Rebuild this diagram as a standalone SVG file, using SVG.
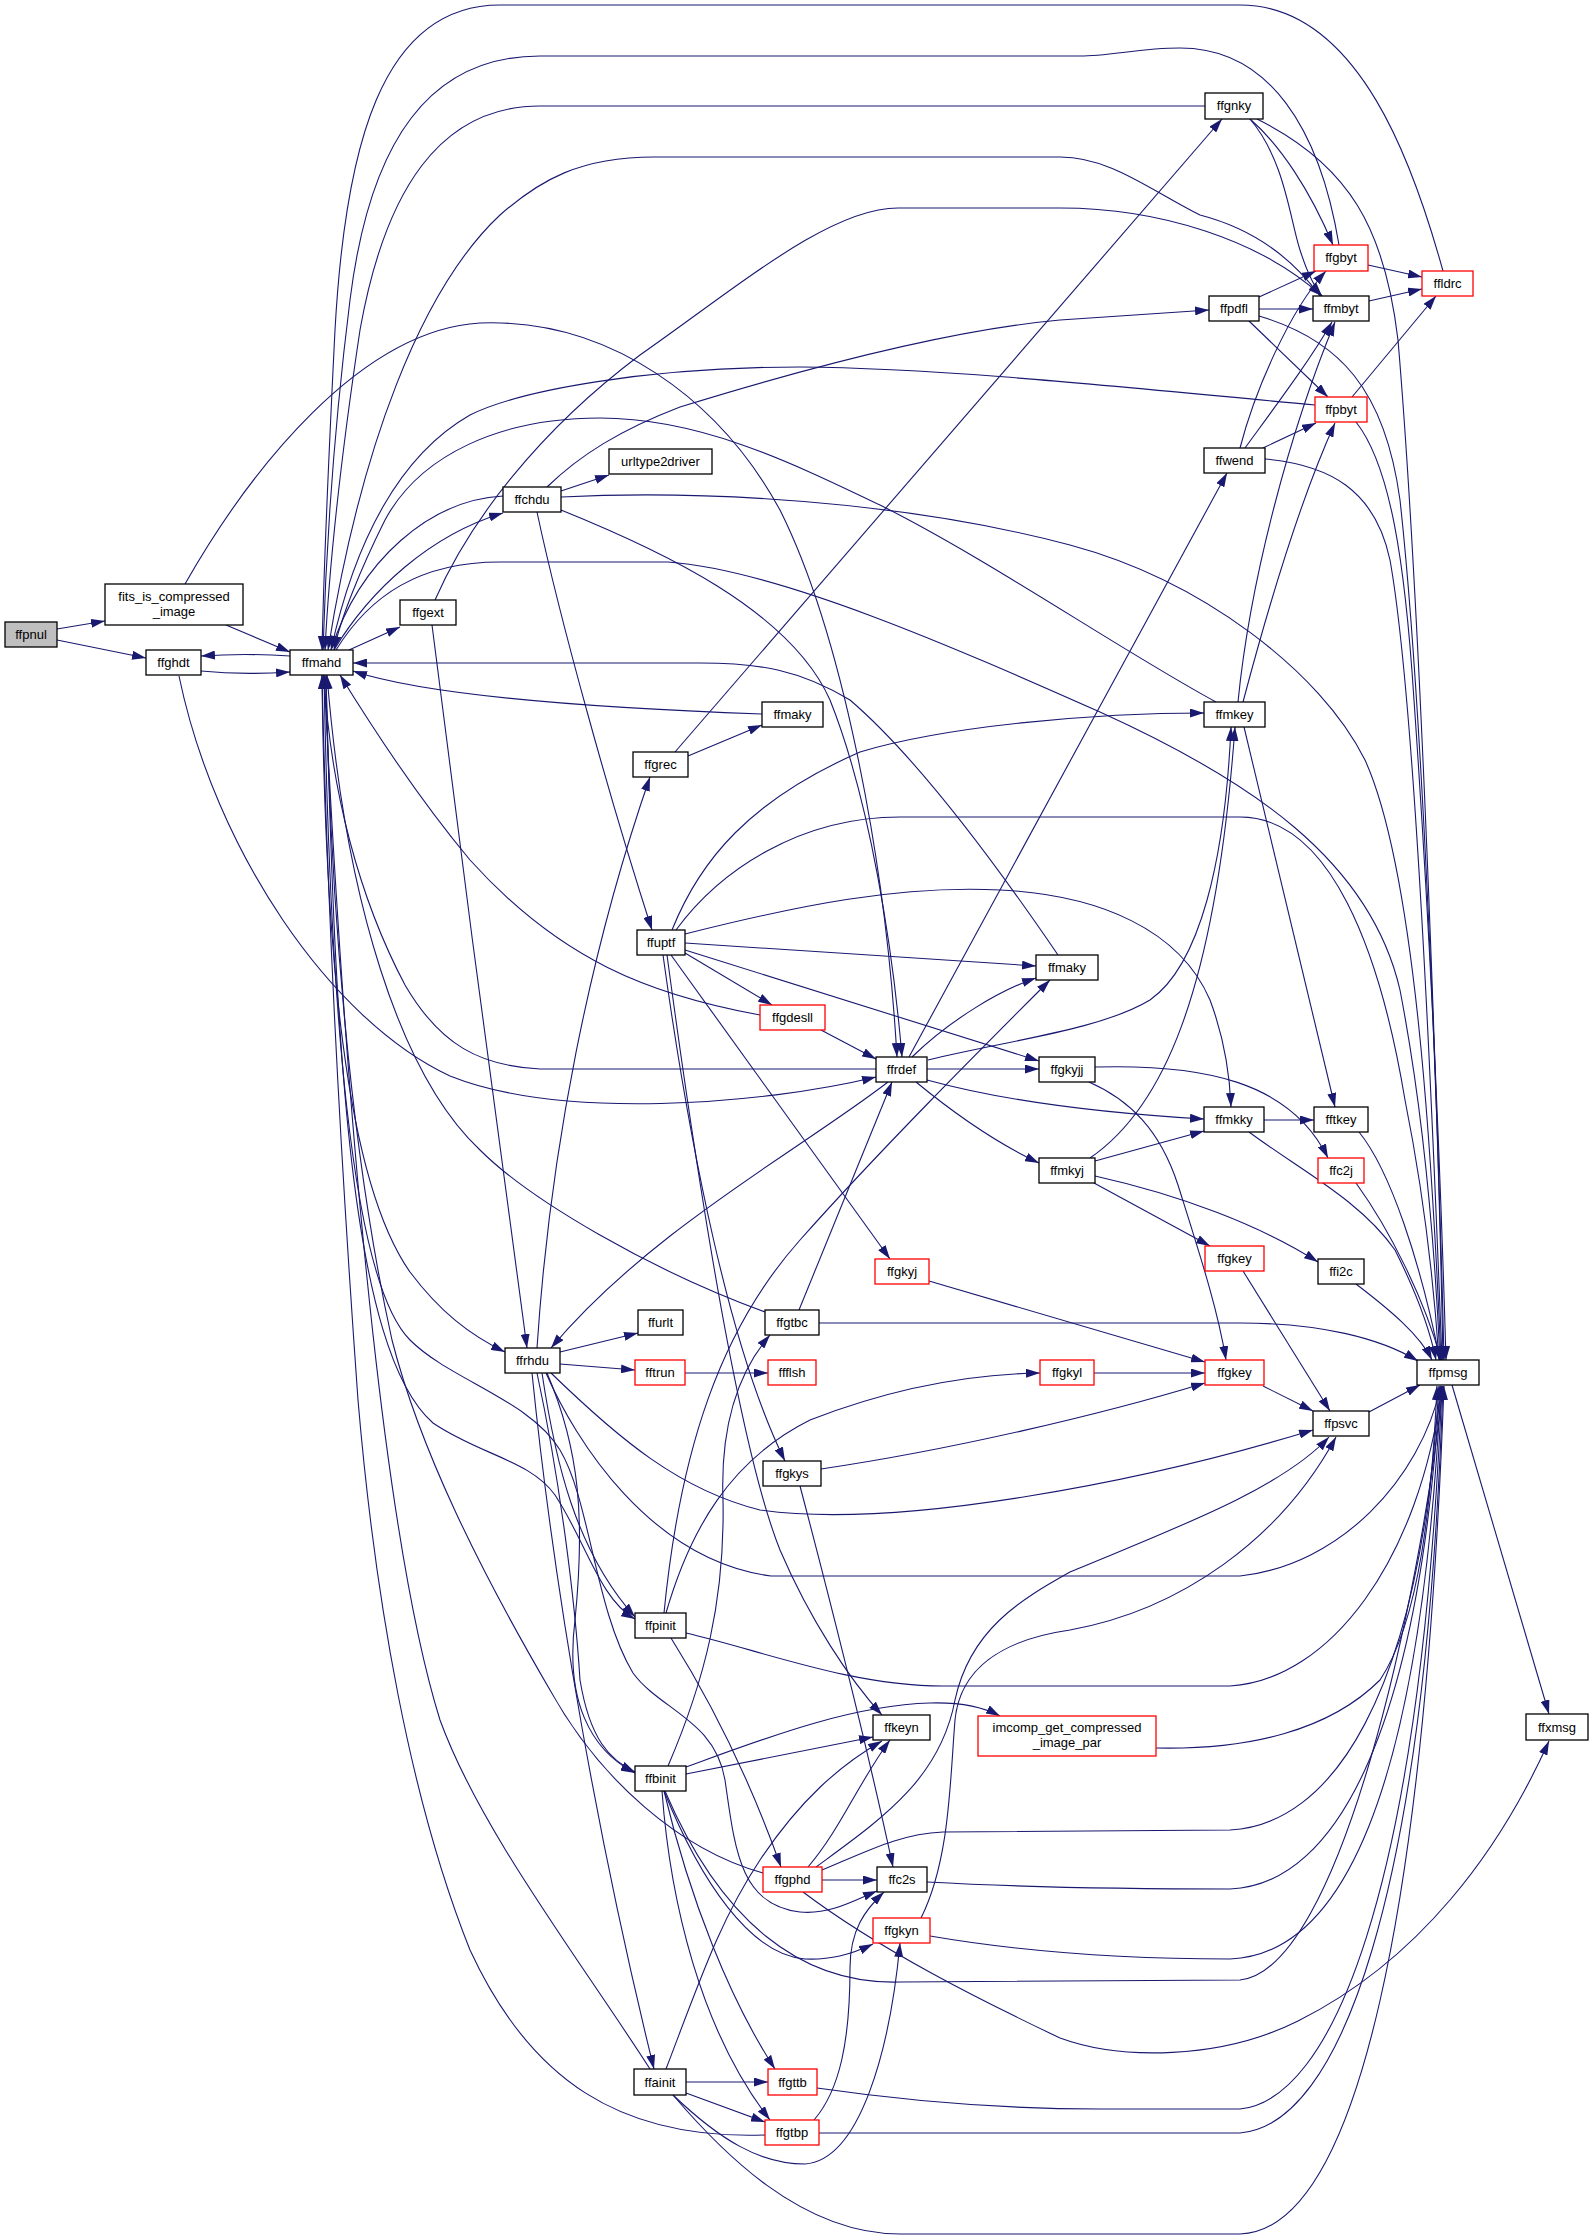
<svg xmlns="http://www.w3.org/2000/svg" width="1593" height="2240" viewBox="0 0 1593 2240">
<style>
text{font-family:"Liberation Sans",Arial,Helvetica,sans-serif;font-size:13px;text-anchor:middle;fill:#000}
.nb{fill:#fff;stroke:#000;stroke-width:1.3}
.nr{fill:#fff;stroke:#ff0000;stroke-width:1.3}
.ng{fill:#bfbfbf;stroke:#000;stroke-width:1.3}
#edges path{fill:none;stroke:#191970;stroke-width:1.1;marker-end:url(#ah)}
</style>
<defs>
<marker id="ah" markerWidth="14" markerHeight="9" refX="14" refY="4.5" orient="auto" markerUnits="userSpaceOnUse"><path d="M0,0 L14,4.5 L0,9 z" fill="#191970"/></marker>
</defs>
<rect x="0" y="0" width="1593" height="2240" fill="#fff"/>
<g id="edges">
<path d="M57,629 L105,621"/>
<path d="M57,640 L146,658"/>
<path d="M226,625 L290,652"/>
<path d="M201,671 C230,674 260,674 290,672"/>
<path d="M290,656 C260,654 230,654 201,656"/>
<path d="M349,650 L400,627"/>
<path d="M334,650 C370,590 430,535 503,513"/>
<path d="M503,496 C430,500 360,560 331,650"/>
<path d="M185,584 C250,470 360,330 480,323 C610,318 720,400 780,510 C840,630 885,850 897,1057"/>
<path d="M179,676 C215,850 330,1020 450,1076 C560,1120 760,1105 876,1077"/>
<path d="M1443,271 C1415,170 1360,5 1240,5 L500,5 C380,5 345,150 335,330 C329,450 324,560 322,650"/>
<path d="M1339,245 C1320,130 1270,48 1180,48 C1140,48 1110,56 1080,56 L540,56 C430,56 370,140 350,300 C335,420 326,550 323,650"/>
<path d="M1205,106 L540,106 C440,106 385,190 360,330 C345,430 330,550 325,650"/>
<path d="M1320,296 C1290,255 1250,228 1200,215 C1150,190 1110,157 1060,157 L654,157 C580,157 540,180 500,215 C420,290 360,450 328,650"/>
<path d="M435,600 C470,520 540,430 640,355 C740,285 830,208 898,208 L1060,208 C1160,208 1260,240 1322,296"/>
<path d="M1315,405 C1150,390 950,368 800,367 C650,367 520,390 470,415 C400,455 355,540 331,650"/>
<path d="M1216,702 C1120,650 990,560 880,505 C790,462 700,418 600,418 C500,418 420,455 385,520 C360,570 340,620 334,650"/>
<path d="M336,650 C370,595 420,562 500,562 L668,562 C780,570 960,650 1100,712 C1250,780 1370,860 1400,990 C1425,1120 1435,1250 1440,1360"/>
<path d="M561,497 C700,490 900,500 1070,545 C1200,580 1320,670 1365,760 C1415,870 1432,1150 1441,1360"/>
<path d="M561,491 L609,475"/>
<path d="M547,487 C580,455 620,430 680,407 C800,370 950,330 1060,320 L1209,310"/>
<path d="M537,512 C560,620 610,800 652,930"/>
<path d="M561,510 C660,550 790,610 830,700 C870,800 893,950 902,1057"/>
<path d="M762,714 C650,710 440,700 353,671"/>
<path d="M1058,955 C1000,870 920,760 850,700 C800,670 760,663 700,663 L353,663"/>
<path d="M876,1069 L540,1069 C480,1066 440,1045 405,985 C360,900 330,790 324,675"/>
<path d="M760,1015 C650,995 560,960 470,860 C420,800 380,740 340,675"/>
<path d="M765,1312 C650,1270 530,1200 480,1150 C400,1075 345,900 327,675"/>
<path d="M322,675 C325,950 345,1180 410,1272 C440,1312 470,1335 505,1352"/>
<path d="M432,625 C460,850 500,1150 527,1348"/>
<path d="M537,1348 C550,1150 590,950 650,777"/>
<path d="M675,752 L1222,119"/>
<path d="M688,756 L762,725"/>
<path d="M912,1057 C950,1020 1000,990 1036,978"/>
<path d="M685,943 L1036,966"/>
<path d="M664,1613 C680,1450 720,1330 800,1240 C880,1150 980,1050 1050,980"/>
<path d="M666,1613 C690,1530 730,1460 810,1420 C900,1385 980,1374 1040,1373"/>
<path d="M668,1766 C705,1680 725,1600 723,1500 C720,1420 740,1370 770,1335"/>
<path d="M685,953 L772,1005"/>
<path d="M821,1030 L876,1059"/>
<path d="M685,950 L1039,1061"/>
<path d="M927,1069 L1039,1069"/>
<path d="M927,1080 C1000,1100 1100,1113 1204,1119"/>
<path d="M916,1082 C950,1110 990,1140 1039,1163"/>
<path d="M909,1057 L1227,473"/>
<path d="M888,1082 C800,1150 650,1230 551,1348"/>
<path d="M928,1060 C1010,1040 1100,1030 1150,1000 C1200,965 1225,860 1231,727"/>
<path d="M1090,1158 C1160,1110 1215,1000 1235,727"/>
<path d="M1244,727 L1335,1107"/>
<path d="M685,934 C800,905 900,885 1000,890 C1100,895 1180,930 1210,1000 C1225,1040 1230,1080 1231,1107"/>
<path d="M1095,1067 C1200,1064 1290,1080 1328,1158"/>
<path d="M1089,1082 C1130,1100 1160,1130 1178,1185 C1200,1255 1218,1310 1226,1360"/>
<path d="M1264,1120 L1314,1120"/>
<path d="M1095,1161 L1204,1131"/>
<path d="M1094,1183 L1210,1246"/>
<path d="M1095,1176 C1180,1195 1260,1225 1318,1262"/>
<path d="M1249,1132 C1300,1170 1360,1200 1395,1250 C1415,1290 1430,1330 1436,1360"/>
<path d="M1359,1132 C1390,1170 1420,1260 1440,1360"/>
<path d="M1356,1183 C1390,1230 1425,1300 1441,1360"/>
<path d="M1356,1284 C1390,1310 1420,1335 1432,1360"/>
<path d="M1243,1271 L1330,1411"/>
<path d="M1094,1373 L1205,1373"/>
<path d="M1263,1386 L1313,1411"/>
<path d="M1369,1412 L1420,1385"/>
<path d="M1452,1385 L1549,1714"/>
<path d="M821,1469 C950,1450 1100,1415 1205,1383"/>
<path d="M929,1281 L1205,1362"/>
<path d="M819,1323 L1240,1323 C1320,1323 1380,1338 1418,1361"/>
<path d="M800,1486 C830,1600 870,1760 893,1867"/>
<path d="M663,955 C690,1150 730,1350 785,1461"/>
<path d="M667,955 C700,1200 740,1450 780,1550 C810,1620 850,1680 882,1715"/>
<path d="M671,955 L890,1259"/>
<path d="M672,930 C700,860 750,800 860,752 C950,725 1100,713 1204,713"/>
<path d="M676,930 C720,870 800,817 900,817 L1240,817 C1330,817 1380,950 1405,1100 C1425,1200 1435,1300 1439,1360"/>
<path d="M560,1352 L638,1333"/>
<path d="M560,1364 L635,1370"/>
<path d="M685,1373 L768,1373"/>
<path d="M551,1373 C620,1440 680,1490 760,1510 C900,1530 1150,1480 1313,1430"/>
<path d="M546,1373 C575,1440 650,1560 771,1576 L1240,1576 C1340,1565 1420,1480 1441,1386"/>
<path d="M1257,119 C1350,165 1385,230 1398,340 C1420,600 1438,1100 1443,1360"/>
<path d="M1259,316 C1340,340 1385,390 1400,500 C1422,700 1438,1100 1444,1360"/>
<path d="M1356,422 C1390,465 1405,560 1414,700 C1428,900 1440,1150 1446,1360"/>
<path d="M1265,459 C1330,465 1375,490 1390,560 C1415,700 1432,1100 1442,1360"/>
<path d="M1243,702 C1270,600 1300,500 1335,423"/>
<path d="M1238,702 C1250,580 1290,430 1335,322"/>
<path d="M1240,448 C1255,390 1290,310 1326,271"/>
<path d="M1245,448 C1280,400 1310,360 1332,322"/>
<path d="M1263,448 L1316,423"/>
<path d="M1259,297 L1316,271"/>
<path d="M1259,309 L1313,309"/>
<path d="M1249,321 L1328,397"/>
<path d="M1250,119 C1280,145 1310,190 1333,245"/>
<path d="M1250,119 C1285,160 1290,220 1300,250 C1308,275 1315,288 1322,296"/>
<path d="M1368,265 L1422,277"/>
<path d="M1369,301 L1422,289"/>
<path d="M1352,397 L1436,296"/>
<path d="M671,1638 C710,1700 750,1780 781,1867"/>
<path d="M686,1633 C760,1650 850,1686 943,1686 L1230,1686 C1330,1680 1420,1560 1442,1386"/>
<path d="M686,1767 C760,1740 850,1705 930,1703 C965,1702 985,1708 1000,1716"/>
<path d="M686,1774 L873,1737"/>
<path d="M664,1791 C700,1880 750,1955 805,1959 C830,1960 850,1955 873,1944"/>
<path d="M664,1791 C690,1900 730,2000 775,2069"/>
<path d="M662,1791 C670,1900 700,2030 770,2120"/>
<path d="M665,1791 C720,1920 800,1985 900,1982 L1240,1980 C1340,1970 1420,1600 1443,1386"/>
<path d="M1156,1748 C1250,1750 1330,1730 1380,1680 C1420,1620 1432,1500 1437,1386"/>
<path d="M822,1880 L877,1880"/>
<path d="M808,1867 C840,1830 860,1780 890,1740"/>
<path d="M816,1867 C880,1820 940,1780 955,1700 C970,1630 1020,1600 1070,1572 C1170,1530 1280,1490 1329,1437"/>
<path d="M921,1918 C950,1860 950,1780 955,1720 C960,1670 1000,1640 1070,1630 C1180,1610 1280,1540 1336,1437"/>
<path d="M822,1870 C870,1850 900,1834 943,1832 L1230,1830 C1330,1825 1420,1700 1439,1386"/>
<path d="M927,1882 C1000,1886 1100,1889 1230,1889 C1340,1885 1420,1720 1440,1386"/>
<path d="M930,1936 C1000,1948 1100,1959 1230,1959 C1340,1955 1420,1800 1441,1386"/>
<path d="M803,1892 C880,1950 980,2000 1060,2038 C1120,2060 1220,2060 1298,2021 C1420,1960 1500,1850 1549,1741"/>
<path d="M817,2088 C900,2100 1000,2109 1100,2109 L1240,2109 C1330,2100 1420,1900 1442,1386"/>
<path d="M819,2133 L1240,2133 C1340,2125 1425,1900 1443,1386"/>
<path d="M673,2095 C720,2150 800,2234 900,2234 L1240,2234 C1360,2230 1425,1900 1444,1386"/>
<path d="M814,2120 C840,2090 850,2040 850,1968 C850,1930 865,1910 884,1892"/>
<path d="M666,2069 C700,1980 720,1920 760,1860 C800,1800 840,1765 882,1741"/>
<path d="M686,2082 L768,2082"/>
<path d="M686,2093 L765,2122"/>
<path d="M673,2095 C720,2140 760,2164 805,2164 C860,2160 890,2050 900,1943"/>
<path d="M765,2135 C620,2140 530,2080 470,1950 C410,1800 375,1600 358,1400 C340,1150 327,900 322,675"/>
<path d="M650,2069 C580,1960 480,1830 440,1720 C390,1560 350,1200 324,675"/>
<path d="M763,1873 C680,1850 600,1780 550,1690 C480,1570 420,1450 392,1340 C350,1150 330,900 326,675"/>
<path d="M326,676 C335,1050 350,1350 433,1423 C480,1455 530,1460 555,1495 C585,1540 600,1600 635,1619"/>
<path d="M542,1373 C555,1460 575,1550 635,1617"/>
<path d="M547,1373 C580,1450 585,1520 575,1620 C565,1700 590,1750 635,1773"/>
<path d="M537,1373 C560,1480 575,1600 580,1680 C590,1740 610,1760 635,1772"/>
<path d="M532,1373 C555,1600 600,1850 654,2069"/>
<path d="M324,676 C330,1000 350,1280 410,1340 C450,1380 530,1400 560,1450 C590,1500 595,1610 633,1673 C660,1710 715,1720 725,1780 C735,1850 740,1905 800,1912 C830,1915 855,1900 877,1891"/>
<path d="M799,1310 L892,1082"/>
</g>
<g id="n_ffpnul"><rect class="ng" x="5" y="622" width="52" height="25"/><text x="31" y="639">ffpnul</text></g>
<g id="n_fits_is_compressed_image"><rect class="nb" x="105" y="584" width="138" height="41"/><text x="174" y="601">fits_is_compressed</text><text x="174" y="616">_image</text></g>
<g id="n_ffghdt"><rect class="nb" x="146" y="650" width="55" height="25"/><text x="173.5" y="667">ffghdt</text></g>
<g id="n_ffmahd"><rect class="nb" x="290" y="650" width="63" height="25"/><text x="321.5" y="667">ffmahd</text></g>
<g id="n_ffgext"><rect class="nb" x="400" y="600" width="56" height="25"/><text x="428" y="617">ffgext</text></g>
<g id="n_ffchdu"><rect class="nb" x="503" y="487" width="58" height="25"/><text x="532" y="504">ffchdu</text></g>
<g id="n_urltype2driver"><rect class="nb" x="609" y="449" width="103" height="25"/><text x="660.5" y="466">urltype2driver</text></g>
<g id="n_ffmaky_1"><rect class="nb" x="762" y="702" width="61" height="25"/><text x="792.5" y="719">ffmaky</text></g>
<g id="n_ffgnky"><rect class="nb" x="1205" y="93" width="58" height="26"/><text x="1234" y="110">ffgnky</text></g>
<g id="n_ffgbyt"><rect class="nr" x="1314" y="245" width="54" height="26"/><text x="1341" y="262">ffgbyt</text></g>
<g id="n_ffldrc"><rect class="nr" x="1422" y="271" width="51" height="25"/><text x="1447.5" y="288">ffldrc</text></g>
<g id="n_ffpdfl"><rect class="nb" x="1209" y="296" width="50" height="25"/><text x="1234" y="313">ffpdfl</text></g>
<g id="n_ffmbyt"><rect class="nb" x="1313" y="296" width="56" height="25"/><text x="1341" y="313">ffmbyt</text></g>
<g id="n_ffpbyt"><rect class="nr" x="1315" y="397" width="52" height="25"/><text x="1341" y="414">ffpbyt</text></g>
<g id="n_ffwend"><rect class="nb" x="1204" y="448" width="61" height="25"/><text x="1234.5" y="465">ffwend</text></g>
<g id="n_ffmkey"><rect class="nb" x="1204" y="702" width="61" height="25"/><text x="1234.5" y="719">ffmkey</text></g>
<g id="n_ffgrec"><rect class="nb" x="633" y="752" width="55" height="25"/><text x="660.5" y="769">ffgrec</text></g>
<g id="n_ffuptf"><rect class="nb" x="637" y="930" width="48" height="25"/><text x="661" y="947">ffuptf</text></g>
<g id="n_ffgdesll"><rect class="nr" x="760" y="1005" width="65" height="25"/><text x="792.5" y="1022">ffgdesll</text></g>
<g id="n_ffrdef"><rect class="nb" x="876" y="1057" width="51" height="25"/><text x="901.5" y="1074">ffrdef</text></g>
<g id="n_ffmaky_2"><rect class="nb" x="1036" y="955" width="62" height="25"/><text x="1067" y="972">ffmaky</text></g>
<g id="n_ffgkyjj"><rect class="nb" x="1039" y="1057" width="56" height="25"/><text x="1067" y="1074">ffgkyjj</text></g>
<g id="n_ffmkyj"><rect class="nb" x="1039" y="1158" width="56" height="25"/><text x="1067" y="1175">ffmkyj</text></g>
<g id="n_ffgkyj"><rect class="nr" x="875" y="1259" width="54" height="25"/><text x="902" y="1276">ffgkyj</text></g>
<g id="n_ffgtbc"><rect class="nb" x="765" y="1310" width="54" height="25"/><text x="792" y="1327">ffgtbc</text></g>
<g id="n_ffurlt"><rect class="nb" x="638" y="1310" width="45" height="25"/><text x="660.5" y="1327">ffurlt</text></g>
<g id="n_ffrhdu"><rect class="nb" x="505" y="1348" width="55" height="25"/><text x="532.5" y="1365">ffrhdu</text></g>
<g id="n_fftrun"><rect class="nr" x="635" y="1360" width="50" height="25"/><text x="660" y="1377">fftrun</text></g>
<g id="n_ffflsh"><rect class="nr" x="768" y="1360" width="48" height="25"/><text x="792" y="1377">ffflsh</text></g>
<g id="n_ffgkyl"><rect class="nr" x="1040" y="1360" width="54" height="25"/><text x="1067" y="1377">ffgkyl</text></g>
<g id="n_ffgkys"><rect class="nb" x="763" y="1461" width="58" height="25"/><text x="792" y="1478">ffgkys</text></g>
<g id="n_ffmkky"><rect class="nb" x="1204" y="1107" width="60" height="25"/><text x="1234" y="1124">ffmkky</text></g>
<g id="n_fftkey"><rect class="nb" x="1314" y="1107" width="54" height="25"/><text x="1341" y="1124">fftkey</text></g>
<g id="n_ffc2j"><rect class="nr" x="1318" y="1158" width="46" height="25"/><text x="1341" y="1175">ffc2j</text></g>
<g id="n_ffgkey_1"><rect class="nr" x="1205" y="1246" width="59" height="25"/><text x="1234.5" y="1263">ffgkey</text></g>
<g id="n_ffi2c"><rect class="nb" x="1318" y="1259" width="46" height="25"/><text x="1341" y="1276">ffi2c</text></g>
<g id="n_ffgkey_2"><rect class="nr" x="1205" y="1360" width="59" height="25"/><text x="1234.5" y="1377">ffgkey</text></g>
<g id="n_ffpmsg"><rect class="nb" x="1417" y="1360" width="62" height="25"/><text x="1448" y="1377">ffpmsg</text></g>
<g id="n_ffpsvc"><rect class="nb" x="1313" y="1411" width="56" height="25"/><text x="1341" y="1428">ffpsvc</text></g>
<g id="n_ffpinit"><rect class="nb" x="635" y="1613" width="51" height="25"/><text x="660.5" y="1630">ffpinit</text></g>
<g id="n_ffbinit"><rect class="nb" x="635" y="1766" width="51" height="25"/><text x="660.5" y="1783">ffbinit</text></g>
<g id="n_ffkeyn"><rect class="nb" x="873" y="1715" width="57" height="25"/><text x="901.5" y="1732">ffkeyn</text></g>
<g id="n_imcomp_get_compressed_image_par"><rect class="nr" x="978" y="1716" width="178" height="40"/><text x="1067" y="1732">imcomp_get_compressed</text><text x="1067" y="1747">_image_par</text></g>
<g id="n_ffgphd"><rect class="nr" x="763" y="1867" width="59" height="25"/><text x="792.5" y="1884">ffgphd</text></g>
<g id="n_ffc2s"><rect class="nb" x="877" y="1867" width="50" height="25"/><text x="902" y="1884">ffc2s</text></g>
<g id="n_ffgkyn"><rect class="nr" x="873" y="1918" width="57" height="25"/><text x="901.5" y="1935">ffgkyn</text></g>
<g id="n_ffainit"><rect class="nb" x="634" y="2069" width="52" height="26"/><text x="660" y="2087">ffainit</text></g>
<g id="n_ffgttb"><rect class="nr" x="768" y="2069" width="49" height="26"/><text x="792.5" y="2087">ffgttb</text></g>
<g id="n_ffgtbp"><rect class="nr" x="765" y="2120" width="54" height="25"/><text x="792" y="2137">ffgtbp</text></g>
<g id="n_ffxmsg"><rect class="nb" x="1526" y="1714" width="62" height="26"/><text x="1557" y="1732">ffxmsg</text></g>
</svg>
